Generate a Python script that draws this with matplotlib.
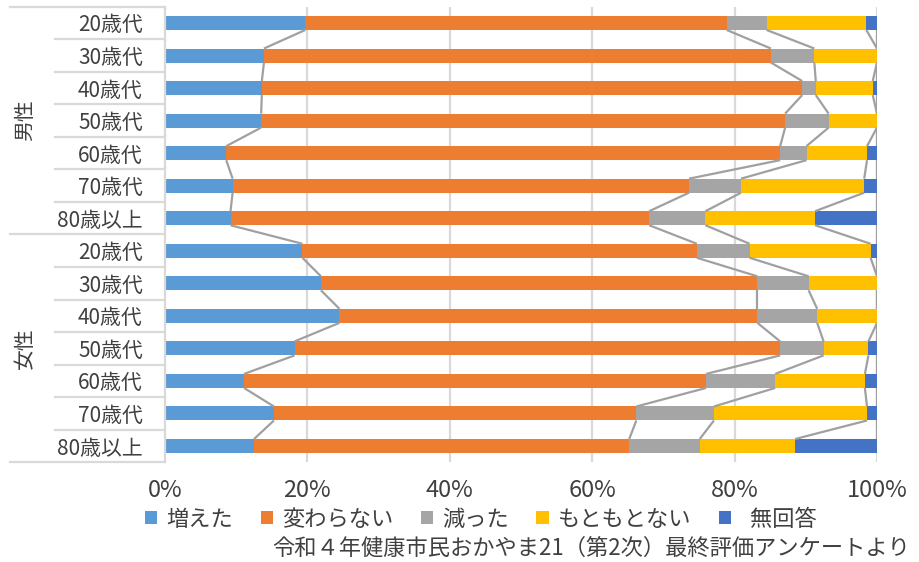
import numpy as np
import matplotlib.pyplot as plt
import matplotlib.transforms as mtransforms

plt.rcParams['font.family'] = ['Noto Sans CJK JP', 'DejaVu Sans']

ages = ['20歳代', '30歳代', '40歳代', '50歳代', '60歳代', '70歳代', '80歳以上']
groups = ['男性', '女性']
categories = ages + ages
series_names = ['増えた', '変わらない', '減った', 'もともとない', '  無回答']
colors = ['#5B9BD5', '#ED7D31', '#A5A5A5', '#FFC000', '#4472C4']

# percent, rows: 男性 20-80, then 女性 20-80
fueta = [19.7, 13.9, 13.6, 13.5, 8.6, 9.5, 9.2,
         19.3, 21.9, 24.5, 18.2, 11.1, 15.3, 12.5]
kawaranai = [59.2, 71.2, 75.9, 73.6, 77.8, 64.1, 58.8,
             55.4, 61.3, 58.7, 68.2, 64.9, 50.9, 52.7]
hetta = [5.6, 6.1, 1.9, 6.1, 3.7, 7.3, 7.9,
         7.4, 7.2, 8.4, 6.1, 9.7, 10.9, 9.9]
motomoto = [14.0, 8.8, 8.0, 6.8, 8.5, 17.3, 15.4,
            17.0, 9.6, 8.4, 6.3, 12.6, 21.5, 13.4]
mukaitou = [1.5, 0.0, 0.6, 0.0, 1.4, 1.8, 8.7,
            0.9, 0.0, 0.0, 1.2, 1.7, 1.4, 11.5]
source = '令和４年健康市民おかやま21（第2次）最終評価アンケートより'

data = np.array([fueta, kawaranai, hetta, motomoto, mukaitou])
cum = np.cumsum(data, axis=0)
n = len(categories)
y = np.arange(n)
h = 0.43
txt = '#404040'
grid_c = '#d9d9d9'

fig = plt.figure(figsize=(9.2, 5.62), dpi=100)
ax = fig.add_axes([165/920, 1-462.3/562, 712/920, (462.3-6.7)/562])

handles = []
for k in range(5):
    left = cum[k] - data[k]
    b = ax.barh(y, data[k], left=left, height=h, color=colors[k], zorder=2,
                label=series_names[k])
    handles.append(b)

# series lines between bars
for k in range(5):
    for i in range(n - 1):
        ax.plot([cum[k, i], cum[k, i+1]], [i + h/2, i + 1 - h/2],
                color='#a0a0a0', lw=1.6, zorder=3, solid_capstyle='butt')

ax.set_xlim(0, 100)
ax.set_ylim(n - 0.5, -0.5)
ax.set_xticks([0, 20, 40, 60, 80, 100])
ax.set_xticklabels(['0%', '20%', '40%', '60%', '80%', '100%'])
for gx in [20, 40, 60, 80, 100]:
    ax.axvline(gx, color=grid_c, lw=1.6, zorder=1)
ax.set_yticks(y)
ax.set_yticklabels(categories)
ax.tick_params(axis='y', length=0, pad=16, labelsize=15, labelcolor=txt)
ax.tick_params(axis='x', length=0, pad=12, labelsize=17, labelcolor=txt)
for s in ['top', 'right', 'bottom']:
    ax.spines[s].set_visible(False)
ax.spines['left'].set_color(grid_c)
ax.spines['left'].set_linewidth(1.6)

# multi-level category axis separators
tr = mtransforms.blended_transform_factory(ax.transAxes, ax.transData)
x_row = (55 - 165) / 712
x_grp = (10 - 165) / 712
for i in range(n + 1):
    yy = i - 0.5
    x0 = x_grp if i % 7 == 0 else x_row
    ax.plot([x0, 0], [yy, yy], transform=tr, color=grid_c, lw=1.6,
            clip_on=False, zorder=1)
x_lab = (25 - 165) / 712
for g, name in enumerate(groups):
    ax.text(x_lab, g * 7 + 3, name, transform=tr, rotation=90, ha='center',
            va='center', fontsize=15, color=txt)

fig.legend(handles=handles, labels=series_names, loc='center left',
           bbox_to_anchor=(145/920, 1-519/562), ncol=5, frameon=False,
           fontsize=16, handlelength=0.55, handleheight=0.55, handletextpad=0.4,
           columnspacing=1.25, borderpad=0, borderaxespad=0, labelcolor=txt)

fig.text(910/920, 1-548/562, source, ha='right', va='center', fontsize=16,
         color=txt)

fig.savefig('out.png', dpi=100)
